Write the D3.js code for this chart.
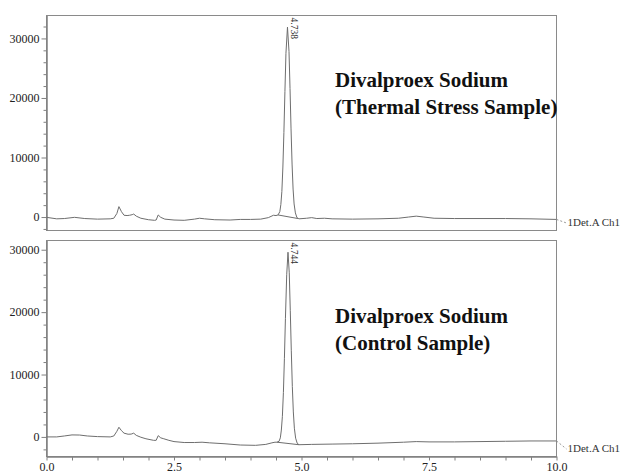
<!DOCTYPE html>
<html lang="en">
<meta charset="utf-8">
<title>Divalproex Sodium chromatograms</title>
<style>
  body { margin: 0; background: #fff; }
  svg { display: block; font-family: "Liberation Serif", "Times New Roman", serif; }
  .axis path, .axis line { stroke: #808080; }
  .axis text { fill: #222; font-size: 12px; font-family: "Liberation Serif", serif; }
  .frame { fill: none; stroke: #8a8a8a; }
  .trace { fill: none; stroke: #6e6e6e; stroke-width: 1; }
  .title { font-weight: bold; font-size: 21px; fill: #111; }
  .peak { font-size: 9.5px; fill: #333; }
  .det { font-size: 11px; fill: #333; }
</style>
<body>
<script src="https://cdn.jsdelivr.net/npm/d3@7"></script>
<script>
// ---- data ----
var topTime = [0.0, 0.2, 0.35, 0.55, 0.75, 1.0, 1.25, 1.32, 1.38, 1.42, 1.47, 1.52, 1.58, 1.63, 1.68, 1.71, 1.76, 1.85, 2.0, 2.12, 2.15, 2.19, 2.24, 2.32, 2.5, 2.7, 2.9, 3.0, 3.1, 3.3, 3.6, 3.8, 4.0, 4.2, 4.35, 4.45, 4.5,
  4.54, 4.575, 4.595, 4.615, 4.635, 4.655, 4.675, 4.695, 4.725, 4.755, 4.775, 4.795, 4.815, 4.835, 4.855, 4.88, 4.91, 4.95,
  5.1, 5.2, 5.3, 5.45, 5.6, 6.0, 6.5, 6.9, 7.1, 7.25, 7.4, 7.6, 8.0, 8.5, 9.0, 9.5, 10.0];
var topSignal = [-50, -300, -250, -50, -250, -350, -300, -200, 600, 1750, 900, 300, 250, 300, 400, 500, 150, -200, -450, -550, -500, 350, -50, -350, -500, -550, -350, -200, -300, -450, -500, -400, -400, -350, -100, 300, 250,
  350, 900, 2100, 4300, 8400, 14200, 21100, 27500, 31900, 27800, 21600, 14800, 8900, 4700, 2200, 700, -100, -300,
  -200, -100, -250, -200, -300, -350, -300, -200, 0, 150, 0, -200, -250, -250, -250, -300, -400];

var botTime = [0.0, 0.2, 0.35, 0.5, 0.65, 0.8, 1.0, 1.25, 1.32, 1.38, 1.42, 1.47, 1.52, 1.6, 1.66, 1.71, 1.76, 1.85, 1.95, 2.1, 2.15, 2.19, 2.24, 2.3, 2.4, 2.5, 2.7, 2.9, 3.05, 3.2, 3.5, 3.8, 4.1, 4.3, 4.42, 4.48, 4.52,
  4.56, 4.585, 4.605, 4.625, 4.645, 4.665, 4.685, 4.71, 4.735, 4.76, 4.78, 4.8, 4.82, 4.84, 4.86, 4.885, 4.915, 4.95,
  5.2, 5.6, 6.0, 6.5, 7.0, 7.25, 7.5, 8.0, 8.5, 9.0, 9.5, 10.0];
var botSignal = [0, 0, 150, 320, 300, 150, 50, 0, 150, 900, 1550, 1000, 600, 430, 450, 600, 250, -50, -300, -550, -550, 200, -150, -300, -550, -750, -900, -900, -850, -950, -1100, -1300, -1350, -1200, -950, -850, -850,
  -700, -150, 1100, 3300, 7100, 12600, 19000, 26000, 29600, 26300, 20300, 13800, 8100, 4000, 1400, -200, -1000, -1250,
  -1200, -1150, -1100, -1000, -850, -750, -800, -800, -750, -700, -650, -650];

// integration baselines under the main peak [start, end]
var topBaseTime = [4.54, 4.93], topBaseSignal = [350, -250];
var botBaseTime = [4.52, 4.95], botBaseSignal = [-850, -1250];

var peakTimes = [4.738, 4.744];
var peakLabels = ["4.738", "4.744"];

var titleLines = [["Divalproex Sodium", "(Thermal Stress Sample)"], ["Divalproex Sodium", "(Control Sample)"]];
var detLabel = "1Det.A Ch1";

var yMajor = [0, 10000, 20000, 30000];
var xMajor = [0, 2.5, 5, 7.5, 10];
var xTickLabels = ["0.0", "2.5", "5.0", "7.5", "10.0"];

// ---- layout ----
var W = 623, H = 474;
var svg = d3.select("body").append("svg").attr("width", W).attr("height", H);

var x = d3.scaleLinear().domain([0, 10]).range([46.5, 556.5]);

var panels = [
  {top: 15.5, bottom: 230.5, dom: [-2260, 33850], t: topTime, s: topSignal, bt: topBaseTime, bs: topBaseSignal, titleY: 87, detY: 226, showX: false},
  {top: 240.5, bottom: 456.5, dom: [-3140, 31480], t: botTime, s: botSignal, bt: botBaseTime, bs: botBaseSignal, titleY: 323, detY: 452, showX: true}
];

panels.forEach(function(p, i) {
  var y = d3.scaleLinear().domain(p.dom).range([p.bottom, p.top]);
  var g = svg.append("g");

  // frame
  g.append("rect").attr("class", "frame")
    .attr("x", x(0)).attr("y", p.top)
    .attr("width", x(10) - x(0)).attr("height", p.bottom - p.top);

  // y axis, major + minor
  var minor = d3.range(-2000, p.dom[1], 2000).filter(function(v) { return yMajor.indexOf(v) < 0; });
  g.append("g").attr("class", "axis")
    .attr("transform", "translate(" + x(0) + ",0)")
    .call(d3.axisLeft(y).tickValues(minor).tickSize(3).tickSizeOuter(0).tickFormat(""));
  g.append("g").attr("class", "axis")
    .attr("transform", "translate(" + x(0) + ",0)")
    .call(d3.axisLeft(y).tickValues(yMajor).tickSize(5).tickSizeOuter(0).tickPadding(2).tickFormat(d3.format("d")));

  if (p.showX) {
    var xMinor = d3.range(0.5, 10, 0.5).filter(function(v) { return xMajor.indexOf(v) < 0; });
    g.append("g").attr("class", "axis")
      .attr("transform", "translate(0," + p.bottom + ")")
      .call(d3.axisBottom(x).tickValues(xMinor).tickSize(4).tickSizeOuter(0).tickFormat(""));
    g.append("g").attr("class", "axis")
      .attr("transform", "translate(0," + p.bottom + ")")
      .call(d3.axisBottom(x).tickValues(xMajor).tickSize(4).tickSizeOuter(0).tickPadding(2)
        .tickFormat(function(d, k) { return xTickLabels[k]; }));
  }

  // trace
  var line = d3.line().x(function(d) { return x(d[0]); }).y(function(d) { return y(d[1]); });
  g.append("path").attr("class", "trace").attr("d", line(d3.zip(p.t, p.s)));
  g.append("path").attr("class", "trace").attr("d", line(d3.zip(p.bt, p.bs)));

  // peak label, rotated
  var px = x(peakTimes[i]) + 3;
  g.append("text").attr("class", "peak")
    .attr("transform", "translate(" + px + "," + (p.top + 2) + ") rotate(90)")
    .text(peakLabels[i]);

  // detector label with dashed leader
  var endY = y(p.s[p.s.length - 1]);
  g.append("line").attr("x1", x(10)).attr("y1", endY).attr("x2", x(10) + 10).attr("y2", p.detY - 3)
    .attr("stroke", "#999").attr("stroke-dasharray", "2,2");
  g.append("text").attr("class", "det").attr("x", x(10) + 11).attr("y", p.detY).text(detLabel);

  // title
  g.selectAll(".title").data(titleLines[i]).enter().append("text")
    .attr("class", "title")
    .attr("x", 335)
    .attr("y", function(d, k) { return p.titleY + k * 27; })
    .text(function(d) { return d; });
});
</script>
</body>
</html>
